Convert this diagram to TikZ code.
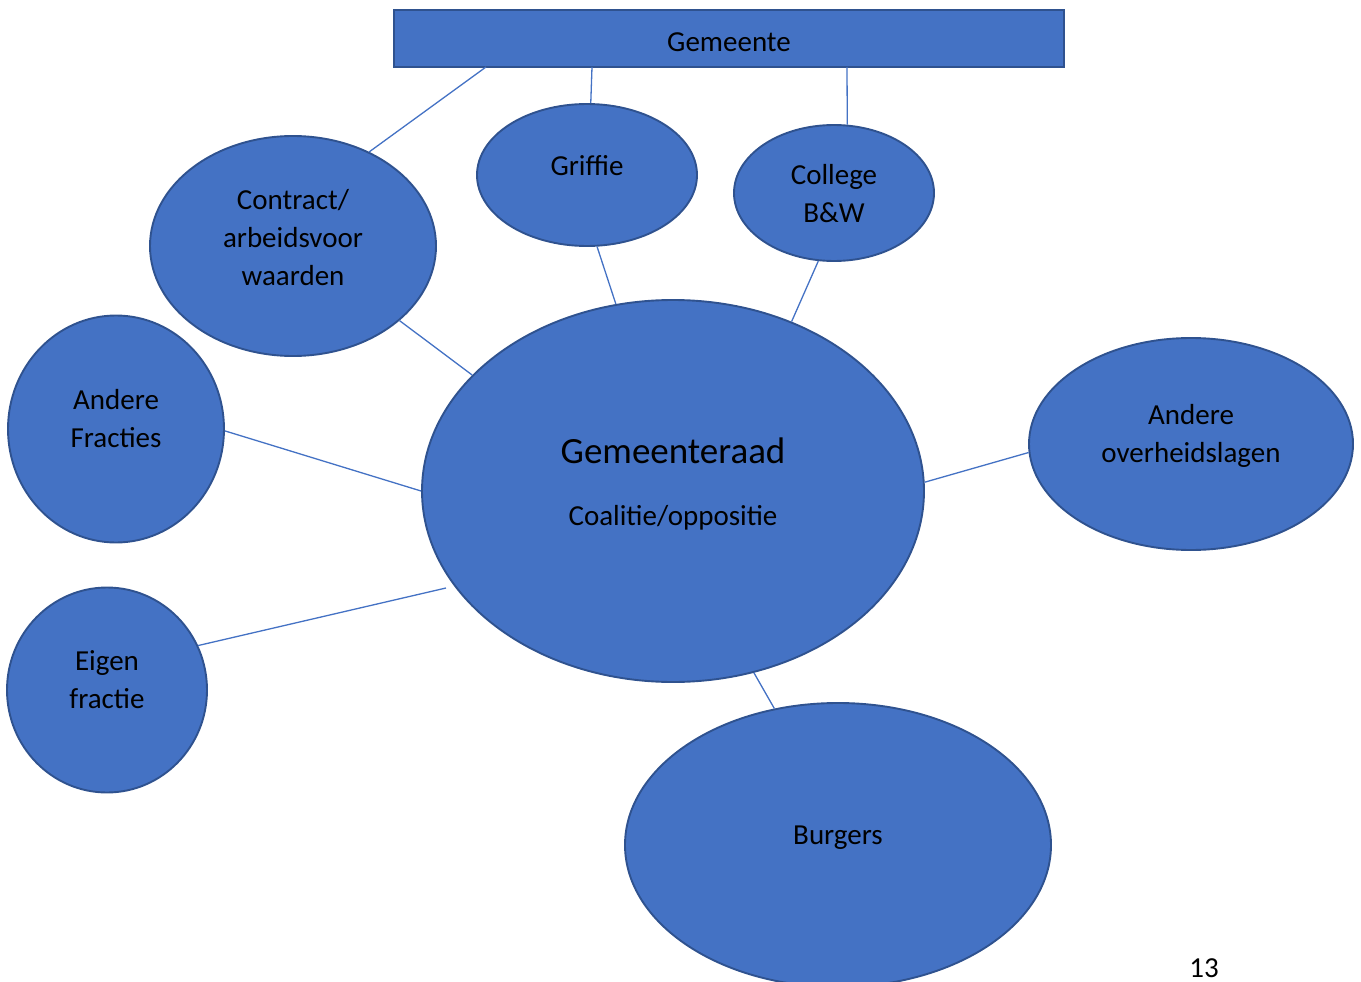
\documentclass[tikz,border=0pt]{standalone}
\usepackage{fontspec}
\setmainfont{Carlito}
\usetikzlibrary{shapes.geometric}
\definecolor{bfill}{HTML}{4472C4}
\definecolor{bdraw}{HTML}{2F528F}
\tikzset{
  bub/.style={ellipse, fill=bfill, draw=bdraw, line width=1.9pt, inner sep=0pt},
  lbl/.style={align=center, inner sep=0pt, text=black, font=\fontsize{29}{38}\selectfont},
  conn/.style={draw=bfill, line width=1.3pt},
}
\begin{document}
\begin{tikzpicture}[x=1pt,y=-1pt]
\useasboundingbox (0,0) rectangle (1361,982);
% top rectangle
\node[fill=bfill, draw=bdraw, line width=1.9pt, minimum width=670pt, minimum height=57pt, inner sep=0pt] (gem) at (729,38.5) {};
\node[lbl] (gem-t) at (729,44) {\strut Gemeente};
% bubbles
\node[bub, minimum width=286pt, minimum height=220pt] (contract) at (293,246) {};
\node[bub, minimum width=220pt, minimum height=142pt] (griffie) at (587,175) {};
\node[bub, minimum width=200pt, minimum height=136pt] (college) at (834,193) {};
\node[bub, minimum width=502pt, minimum height=382pt] (raad) at (673,491) {};
\node[bub, minimum width=216pt, minimum height=227pt] (fracties) at (116,429) {};
\node[bub, minimum width=324pt, minimum height=212pt] (overheid) at (1191,444) {};
\node[bub, minimum width=200pt, minimum height=205pt] (eigen) at (107,690) {};
\node[bub, minimum width=426pt, minimum height=284pt] (burgers) at (838,845) {};
% labels
\node[lbl] (contract-t) at (293,240) {\strut Contract/\\\strut arbeidsvoor\\\strut waarden};
\node[lbl] (griffie-t) at (587,168) {\strut Griffie};
\node[lbl] (college-t) at (834,196) {\strut College\\\strut B\&W};
\node[lbl] (fracties-t) at (116,421) {\strut Andere\\\strut Fracties};
\node[lbl] (overheid-t) at (1191,435.5) {\strut Andere\\\strut overheidslagen};
\node[lbl] (eigen-t) at (107,681.5) {\strut Eigen\\\strut fractie};
\node[lbl] (burgers-t) at (838,837) {\strut Burgers};
\node[lbl, anchor=base, font=\fontsize{37}{44}\selectfont] (raad-t1) at (673,463) {Gemeenteraad};
\node[lbl, anchor=base] (raad-t2) at (673,525) {Coalitie/oppositie};
\node[lbl, anchor=base] (page) at (1204,977) {13};
% connector end points on the top bar
\coordinate (g1) at (486,67);
\coordinate (g2) at (592,67);
\coordinate (g3) at (847,67);
\coordinate (r-eigen) at (446,588);
% connectors
\draw[conn] (g1) -- (contract.51);
\draw[conn] (g2) -- (griffie.87.6);
\draw[conn] (g3) -- (college.79);
\draw[conn] (griffie.-82) -- (raad.107.2);
\draw[conn] (college.-103.4) -- (raad.55.1);
\draw[conn] (contract.-35.3) -- (raad.150.3);
\draw[conn] (fracties.-1.6) -- (raad.180.2);
\draw[conn] (overheid.183.6) -- (raad.2.3);
\draw[conn] (eigen.26.6) -- (r-eigen);
\draw[conn] (raad.-66.3) -- (burgers.115.7);
\end{tikzpicture}
\end{document}
